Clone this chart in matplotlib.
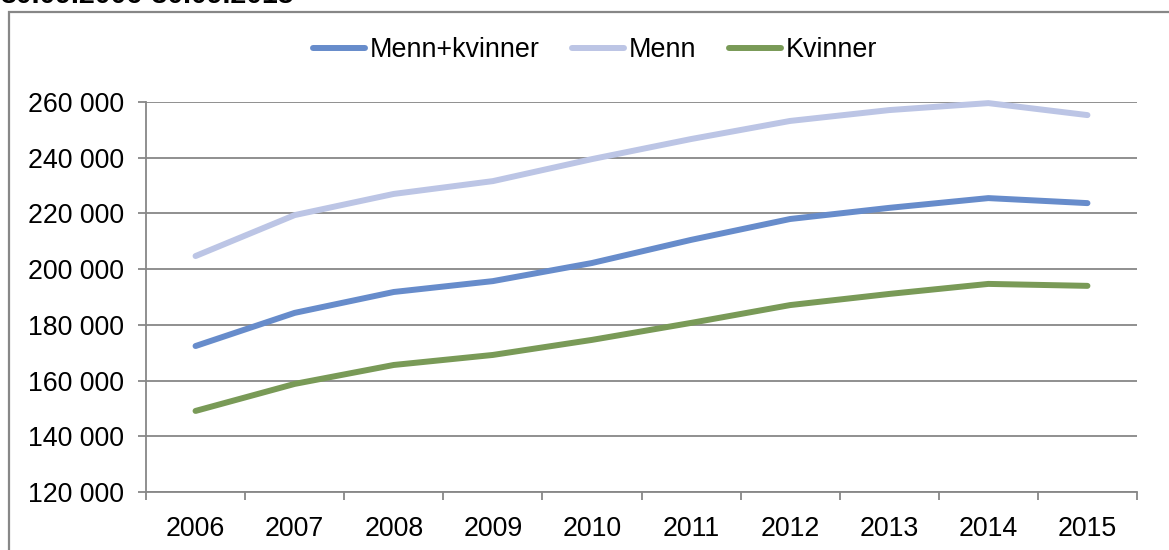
import matplotlib
matplotlib.use("Agg")
import matplotlib.pyplot as plt
from matplotlib.patches import Rectangle
from matplotlib.ticker import FuncFormatter, FixedLocator

years = ["2006", "2007", "2008", "2009", "2010", "2011", "2012", "2013", "2014", "2015"]
menn_kvinner = [172400, 184300, 191800, 195700, 202200, 210500, 218000, 222000, 225500, 223700]
menn = [204700, 219400, 227000, 231600, 239500, 246700, 253200, 257100, 259600, 255300]
kvinner = [149100, 158800, 165600, 169200, 174600, 180700, 187100, 191100, 194700, 194000]

plt.rcParams['font.family'] = ['Liberation Sans', 'DejaVu Sans']

fig = plt.figure(figsize=(11.69, 5.5), dpi=100)
W, H = 1169, 550

# outer chart border (partially off-canvas)
fig.patches.append(Rectangle((9 / W, -0.1), 1.2, 1 - 12 / H + 0.1, transform=fig.transFigure,
                             fill=False, edgecolor="#878787", linewidth=1.6))

fig.text(0.0, 1 - 3 / H, "30.09.2006-30.09.2015", fontsize=20.5, fontweight="bold",
         ha="left", va="baseline", color="black")

ax = fig.add_axes([146 / W, 1 - 492 / H, (1137 - 146) / W, (492 - 102) / H])
x = list(range(len(years)))
grid_c = "#878787"

ax.plot(x, menn_kvinner, color="#678CCB", lw=4.3, label="Menn+kvinner",
        solid_capstyle="round", clip_on=False, zorder=3)
ax.plot(x, menn, color="#BCC5E5", lw=4.3, label="Menn",
        solid_capstyle="round", clip_on=False, zorder=3)
ax.plot(x, kvinner, color="#799A57", lw=4.3, label="Kvinner",
        solid_capstyle="round", clip_on=False, zorder=3)

ax.set_xlim(-0.5, len(years) - 0.5)
ax.set_ylim(120000, 260000)
ax.set_yticks(range(120000, 260001, 20000))
ax.yaxis.set_major_formatter(FuncFormatter(lambda v, p: f"{int(v):,}".replace(",", " ")))
ax.set_xticks(x)
ax.set_xticklabels(years)
ax.xaxis.set_minor_locator(FixedLocator([i - 0.5 for i in range(len(years) + 1)]))

ax.grid(axis="y", color=grid_c, lw=1.3, zorder=1)
ax.set_axisbelow(True)
for s in ["top", "right"]:
    ax.spines[s].set_visible(False)
for s in ["left", "bottom"]:
    ax.spines[s].set_color(grid_c)
    ax.spines[s].set_linewidth(1.3)

ax.tick_params(axis="y", which="major", length=6, width=1.3, color=grid_c,
               labelsize=19.3, pad=10, direction="out")
ax.tick_params(axis="x", which="major", length=0, labelsize=19.3, pad=17)
ax.tick_params(axis="x", which="minor", length=6, width=1.3, color=grid_c, direction="out")

ax.legend(loc="center left", bbox_to_anchor=(313 / W, 1 - 50 / H),
          bbox_transform=fig.transFigure, ncol=3, frameon=False,
          fontsize=19.4, handlelength=1.93, columnspacing=1.19, handletextpad=0.19,
          borderaxespad=0, borderpad=0)

fig.savefig("out.png", dpi=100)
